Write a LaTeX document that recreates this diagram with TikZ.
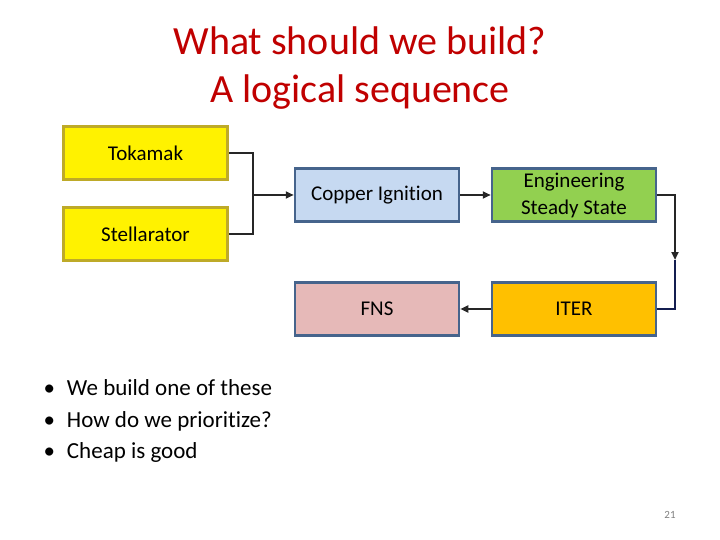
\documentclass[tikz,border=0pt]{standalone}
\usepackage{fontspec}
\setmainfont{Carlito}[Ligatures={NoCommon}]
\usetikzlibrary{arrows.meta}
\begin{document}
\begin{tikzpicture}[x=1pt,y=-1pt,
 box/.style={draw,line width=2.5pt,minimum width=164pt,minimum height=53pt,inner sep=1pt,align=center,font=\fontsize{21}{27}\selectfont},
 con/.style={line width=2pt,draw=black!85,-{Triangle[length=8pt,width=7pt]}},
 plain/.style={line width=2pt,draw=black!85}]
\useasboundingbox (0,0) rectangle (720,540);
\definecolor{tred}{RGB}{192,0,0}
\definecolor{yb}{RGB}{190,170,40}
\definecolor{bb}{RGB}{70,100,140}
\node[text=tred,font=\fontsize{40}{48}\selectfont,align=center] (title) at (360,68) {What should we build?\\A logical sequence};
\node[box,fill=yellow,draw=yb] (tok) at (145.5,153) {Tokamak};
\node[box,fill=yellow,draw=yb] (ste) at (145.5,234) {Stellarator};
\node[box,fill={rgb,255:red,198;green,217;blue,241},draw=bb] (cu) at (377,195) {Copper Ignition};
\node[box,fill={rgb,255:red,146;green,208;blue,80},draw=bb] (ess) at (574,195) {Engineering\\Steady State};
\node[box,fill={rgb,255:red,230;green,185;blue,184},draw=bb] (fns) at (377,309) {FNS};
\node[box,fill={rgb,255:red,255;green,192;blue,0},draw=bb] (iter) at (574,309) {ITER};
\coordinate (j) at (253,195);
\coordinate (m) at (675,260);
\draw[plain] (tok.east) -| (j);
\draw[plain] (ste.east) -| (j);
\draw[con] (j) -- (cu.west);
\draw[con] (cu) -- (ess);
\draw[con] (ess.east) -| (m);
\draw[line width=2pt,draw={rgb,255:red,20;green,30;blue,80}] (m) |- (iter.east);
\draw[con] (iter) -- (fns);
\node[anchor=north west,font=\fontsize{23}{31.5}\selectfont,align=left] (bul) at (40,376) {\textbullet\hspace{12pt}We build one of these\\\textbullet\hspace{12pt}How do we prioritize?\\\textbullet\hspace{12pt}Cheap is good};
\node[text=gray,font=\fontsize{11}{13}\selectfont] (pg) at (670,515) {21};
\end{tikzpicture}
\end{document}
